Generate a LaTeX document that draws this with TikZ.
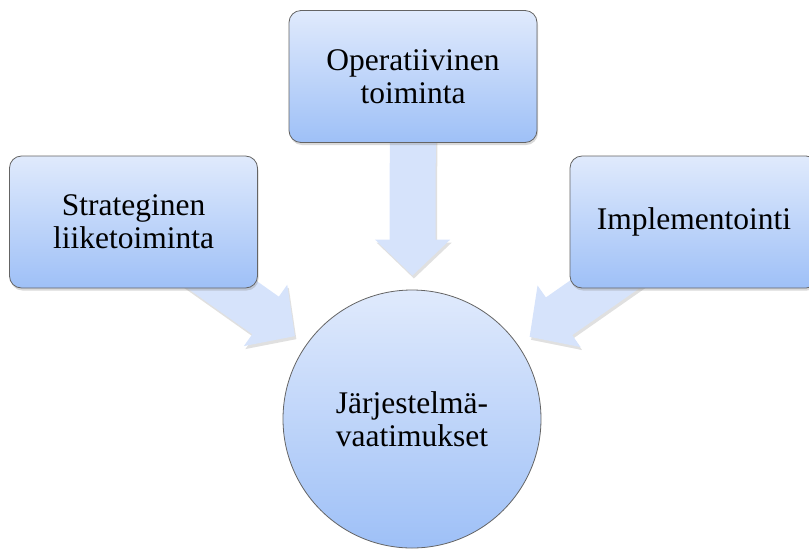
\documentclass[tikz,border=0pt]{standalone}
\usepackage{fontspec}
\setmainfont{Liberation Serif}
\usetikzlibrary{shadows,arrows.meta,backgrounds}
\definecolor{boxtop}{RGB}{224,234,252}
\definecolor{boxbot}{RGB}{158,192,247}
\definecolor{arrowfill}{RGB}{214,227,251}
\definecolor{edgegray}{RGB}{100,100,100}
\begin{document}
\begin{tikzpicture}[x=1pt,y=-1pt,
  boxnode/.style={draw=edgegray, line width=0.8pt, rounded corners=12pt,
    top color=boxtop, bottom color=boxbot,
    minimum width=248pt, minimum height=132pt, inner sep=0pt, align=center,
    font=\fontsize{31.5}{33}\selectfont,
    drop shadow={shadow xshift=1pt, shadow yshift=-2.5pt, opacity=0.3}},
  circnode/.style={circle, draw=edgegray, line width=0.8pt,
    top color=boxtop, bottom color=boxbot,
    minimum size=258pt, inner sep=0pt, align=center,
    font=\fontsize{31.5}{33}\selectfont},
  blockarrow/.style={line width=46pt, draw=arrowfill,
    -{Triangle[width=73pt,length=36pt,fill=arrowfill]}, shorten >=14pt},
  arrowshadow/.style={line width=46pt, draw=black, opacity=0.12,
    -{Triangle[width=73pt,length=36pt]}, shorten >=14pt,
    transform canvas={shift={(1.5pt,-3pt)}}}
]
\useasboundingbox (0,0) rectangle (809,550);
\clip (0,0) rectangle (809,550);
% boxes and circle
\node[boxnode] (lbox) at (133.5,222) {Strateginen\\liiketoiminta};
\node[boxnode] (tbox) at (413,76.5) {Operatiivinen\\toiminta};
\node[boxnode] (rbox) at (694,222) {Implementointi};
\node[circnode] (circ) at (412,419) {Järjestelmä-\\vaatimukset};
% block arrows behind the shapes
\begin{scope}[on background layer]
  \draw[arrowshadow] (lbox.center) -- (circ);
  \draw[arrowshadow] (tbox.center) -- (circ);
  \draw[arrowshadow] (rbox.center) -- (circ);
  \draw[blockarrow] (lbox.center) -- (circ);
  \draw[blockarrow] (tbox.center) -- (circ);
  \draw[blockarrow] (rbox.center) -- (circ);
\end{scope}
\end{tikzpicture}
\end{document}
